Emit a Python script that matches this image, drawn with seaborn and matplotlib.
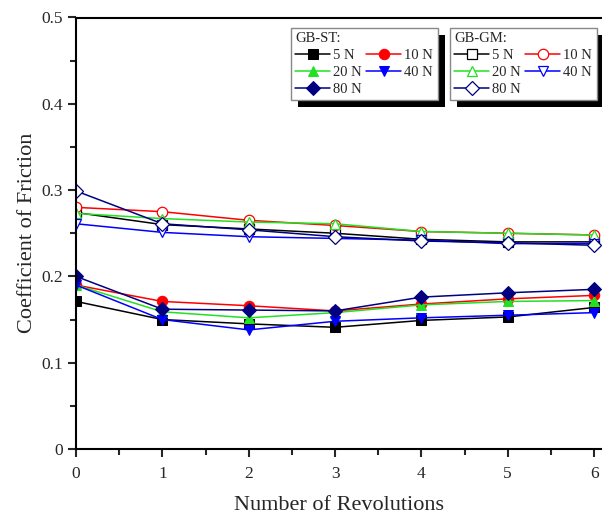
import matplotlib
matplotlib.use("Agg")
import matplotlib.pyplot as plt
from matplotlib.patches import Rectangle
from matplotlib.ticker import MultipleLocator, FuncFormatter
import seaborn as sns

# ---------------- data ----------------
revs = [0, 1, 2, 3, 4, 5, 6]
loads = ["5 N", "10 N", "20 N", "40 N", "80 N"]

st_5 = [0.171, 0.150, 0.145, 0.141, 0.149, 0.153, 0.164]
st_10 = [0.190, 0.171, 0.166, 0.160, 0.168, 0.174, 0.178]
st_20 = [0.190, 0.159, 0.152, 0.158, 0.167, 0.171, 0.172]
st_40 = [0.190, 0.150, 0.138, 0.148, 0.152, 0.155, 0.158]
st_80 = [0.200, 0.162, 0.161, 0.160, 0.176, 0.181, 0.185]

gm_5 = [0.274, 0.260, 0.255, 0.250, 0.243, 0.240, 0.240]
gm_10 = [0.280, 0.275, 0.265, 0.259, 0.252, 0.250, 0.248]
gm_20 = [0.273, 0.267, 0.263, 0.261, 0.252, 0.250, 0.248]
gm_40 = [0.261, 0.251, 0.246, 0.244, 0.242, 0.238, 0.238]
gm_80 = [0.299, 0.261, 0.254, 0.246, 0.241, 0.239, 0.236]

st_series = [st_5, st_10, st_20, st_40, st_80]
gm_series = [gm_5, gm_10, gm_20, gm_40, gm_80]

colors = ["#000000", "#ff0000", "#22e022", "#0000ff", "#000080"]
markers = ["s", "o", "^", "v", "D"]

# ---------------- style ----------------
sns.set_style("ticks")
plt.rcParams["font.family"] = ["Liberation Serif", "DejaVu Serif"]

fig = plt.figure(figsize=(6.02, 5.18), dpi=100)
ax = fig.add_axes([76 / 602, 1 - 449 / 518, (601 - 76) / 602, (449 - 17.5) / 518])

st_handles, gm_handles = [], []
for vals, lab, c, m in zip(st_series, loads, colors, markers):
    sns.lineplot(x=revs, y=vals, ax=ax, color=c, marker=m, markersize=7.5,
                 markerfacecolor=c, markeredgecolor=c, linewidth=1.1,
                 label=lab, legend=False)
    st_handles.append(ax.lines[-1])
for vals, lab, c, m in zip(gm_series, loads, colors, markers):
    sns.lineplot(x=revs, y=vals, ax=ax, color=c, marker=m, markersize=7.5,
                 markerfacecolor="white", markeredgecolor=c, markeredgewidth=0.9,
                 linewidth=1.1, label=lab, legend=False)
    gm_handles.append(ax.lines[-1])

ax.set_xlim(0, 6.08)
ax.set_ylim(0, 0.5)
ax.xaxis.set_major_locator(MultipleLocator(1))
ax.xaxis.set_minor_locator(MultipleLocator(0.5))
ax.yaxis.set_major_locator(MultipleLocator(0.1))
ax.yaxis.set_minor_locator(MultipleLocator(0.05))
ax.yaxis.set_major_formatter(FuncFormatter(lambda v, p: "0" if abs(v) < 1e-9 else f"{v:.1f}"))
ax.tick_params(which="major", direction="out", length=6, width=1.5, labelsize=12.5,
               top=False, right=False)
ax.tick_params(which="minor", direction="out", length=4, width=1.5, top=False, right=False)
ax.tick_params(axis="x", pad=6)
for s in ["left", "bottom", "top"]:
    ax.spines[s].set_linewidth(1.5)
    ax.spines[s].set_color("black")
ax.spines["right"].set_visible(False)

ax.set_xlabel("Number of Revolutions", fontsize=16, labelpad=10)
ax.set_ylabel("Coefficient of Friction", fontsize=16, labelpad=3)

order = [0, 2, 4, 1, 3]
leg_kw = dict(loc="upper left", ncol=2, fontsize=10.5, handlelength=2.4,
              handletextpad=0.2, columnspacing=0.3, labelspacing=0.25,
              borderpad=0.3, borderaxespad=0, frameon=True, fancybox=False,
              alignment="left", title_fontsize=10.5, bbox_transform=fig.transFigure)
leg1 = ax.legend([st_handles[i] for i in order], [loads[i] for i in order],
                 title="GB-ST:", bbox_to_anchor=(291 / 602, 1 - 28 / 518), **leg_kw)
ax.add_artist(leg1)
leg2 = ax.legend([gm_handles[i] for i in order], [loads[i] for i in order],
                 title="GB-GM:", bbox_to_anchor=(450 / 602, 1 - 28 / 518), **leg_kw)
for lg in (leg1, leg2):
    fr = lg.get_frame()
    fr.set_edgecolor("#888888")
    fr.set_linewidth(1.0)
    fr.set_facecolor("white")
    fr.set_alpha(1)
    lg.set_zorder(6)

fig.canvas.draw()
renderer = fig.canvas.get_renderer()
inv = fig.transFigure.inverted()
for lg in (leg1, leg2):
    bb = lg.get_window_extent(renderer)
    (x0, y0) = inv.transform((bb.x0 + 7, bb.y0 - 7))
    (x1, y1) = inv.transform((bb.x1 + 7, bb.y1 - 7))
    ax.add_patch(Rectangle((x0, y0), x1 - x0, y1 - y0, transform=fig.transFigure,
                           facecolor="black", edgecolor="none", zorder=5.5, clip_on=False))

fig.savefig("out.png", dpi=100)
